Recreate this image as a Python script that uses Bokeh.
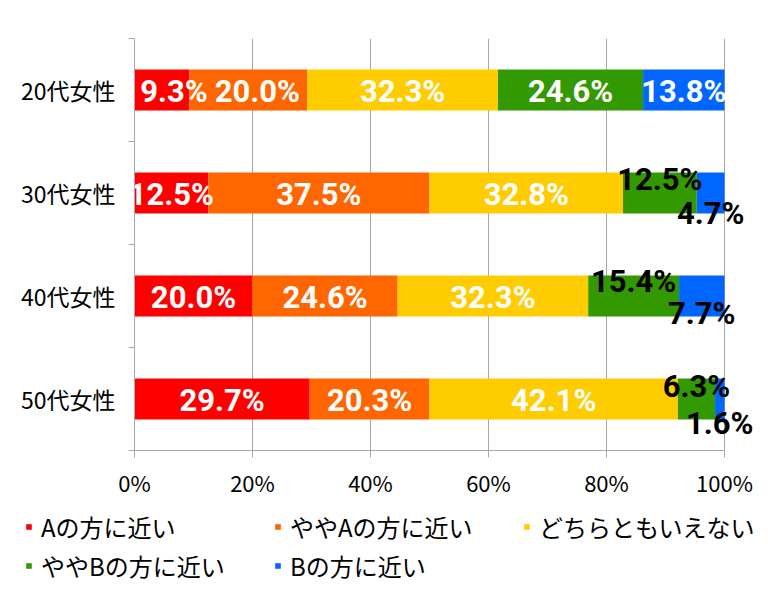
import numpy as np
from bokeh.plotting import figure
from bokeh.layouts import column
from bokeh.models import (ColumnDataSource, Range1d, FixedTicker, Legend, LegendItem)
from bokeh.core.properties import value
from bokeh.embed import file_html
from bokeh.resources import INLINE

# ---- data ----
groups = ["20代女性", "30代女性", "40代女性", "50代女性"]
series = ["Aの方に近い", "ややAの方に近い", "どちらともいえない", "ややBの方に近い", "Bの方に近い"]
a_close = [9.3, 12.5, 20.0, 29.7]
slightly_a = [20.0, 37.5, 24.6, 20.3]
neither = [32.3, 32.8, 32.3, 42.1]
slightly_b = [24.6, 12.5, 15.4, 6.3]
b_close = [13.8, 4.7, 7.7, 1.6]
x_ticks = [0, 20, 40, 60, 80, 100]
x_tick_labels = ["0%", "20%", "40%", "60%", "80%", "100%"]

# ---- styles ----
colors = ["#FF0000", "#FF6600", "#FFCC00", "#339900", "#0066FF"]
grid_col = "#A8A8A8"
jp_font = "Noto Sans CJK JP"
label_font = "Roboto"
# pixel nudges for a few data labels (group index, series index) -> (dx, dy)
label_nudge = {(0, 0): (12, 0), (0, 1): (9, 0),
               (1, 3): (0, -15), (1, 4): (0, 19),
               (2, 3): (0, -16), (2, 4): (0, 16),
               (3, 3): (0, -14), (3, 4): (0, 23)}

values = [a_close, slightly_a, neither, slightly_b, b_close]
keys = ["s%d" % i for i in range(len(series))]
n = len(groups)
ypos = [n - i - 0.5 for i in range(n)]

src = ColumnDataSource(dict(y=ypos, **{k: v for k, v in zip(keys, values)}))

# frame: x 134..760 px, value 100 sits at 724 px -> range end extended so labels are not clipped
x_end = 100.0 * (760 - 134) / (724 - 134)
p = figure(width=768, height=505, x_range=Range1d(0, x_end), y_range=Range1d(0, n),
           output_backend="svg", toolbar_location=None,
           min_border_left=134, min_border_right=8, min_border_top=38, min_border_bottom=55)
p.outline_line_color = None
p.background_fill_color = "white"

renderers = p.hbar_stack(keys, y="y", height=0.4, fill_color=colors, line_color=None, source=src)

# data labels
lx, ly, lt, lc, ldx, ldy = [], [], [], [], [], []
arr = np.array(values)  # series x groups
cum = np.cumsum(arr, axis=0) - arr
for gi in range(n):
    small_row = arr[4, gi] < 10
    for si in range(len(series)):
        v = arr[si, gi]
        lx.append(cum[si, gi] + v / 2.0)
        ly.append(ypos[gi])
        lt.append("%.1f%%" % v)
        lc.append("black" if (small_row and si >= 3) else "white")
        dx, dy = label_nudge.get((gi, si), (0, 0))
        ldx.append(dx)
        ldy.append(dy + 1)
lsrc = ColumnDataSource(dict(x=lx, y=ly, text=lt, color=lc, dx=ldx, dy=ldy))
p.text(x="x", y="y", text="text", text_color="color", x_offset="dx", y_offset="dy",
       source=lsrc, text_font=value(label_font), text_font_style="bold",
       text_font_size="31px", text_align="center", text_baseline="middle")

# grid
p.ygrid.grid_line_color = None
p.xgrid.ticker = FixedTicker(ticks=x_ticks)
p.xgrid.grid_line_color = grid_col
p.xgrid.grid_line_width = 1

# x axis
xa = p.xaxis[0]
xa.ticker = FixedTicker(ticks=x_ticks)
xa.bounds = (0, 100)
xa.major_label_overrides = {t: l for t, l in zip(x_ticks, x_tick_labels)}
xa.axis_line_color = grid_col
xa.major_tick_line_color = grid_col
xa.major_tick_out = 7
xa.major_tick_in = 0
xa.minor_tick_line_color = None
xa.major_label_text_font = jp_font
xa.major_label_text_font_size = "22px"
xa.major_label_text_color = "black"
xa.major_label_standoff = 8

# y axis
ya = p.yaxis[0]
ya.ticker = FixedTicker(ticks=ypos, minor_ticks=list(range(n + 1)))
ya.major_label_overrides = {y: g for y, g in zip(ypos, groups)}
ya.axis_line_color = grid_col
ya.major_tick_line_color = None
ya.major_tick_out = 0
ya.major_tick_in = 0
ya.minor_tick_line_color = grid_col
ya.minor_tick_out = 6
ya.minor_tick_in = 0
ya.major_label_text_font = jp_font
ya.major_label_text_font_size = "23px"
ya.major_label_text_color = "black"
ya.major_label_standoff = 13

# legend in its own strip below the chart (hidden copies of the bars feed the legend)
pl = figure(width=768, height=84, x_range=Range1d(0, 1), y_range=Range1d(0, 1),
            output_backend="svg", toolbar_location=None, min_border=0,
            x_axis_type=None, y_axis_type=None)
pl.frame_align = False
pl.outline_line_color = None
pl.grid.visible = False
leg_renderers = pl.hbar_stack(keys, y="y", height=0.4, fill_color=colors, line_color=None, source=src)
for r in leg_renderers:
    r.visible = False
items = [LegendItem(label=s, renderers=[r]) for s, r in zip(series, leg_renderers)]
legend = Legend(items=items, location=(25, 6), orientation="horizontal", ncols=3,
                glyph_width=7, glyph_height=7, label_standoff=9, label_width=229,
                label_height=30, spacing=4, padding=0, margin=0,
                border_line_color=None, background_fill_alpha=0,
                inactive_fill_alpha=0,
                label_text_font=jp_font, label_text_font_size="24px",
                label_text_color="black")
pl.add_layout(legend, "center")

layout = column(p, pl, spacing=0)
open("out.html", "w").write(file_html(layout, INLINE))
